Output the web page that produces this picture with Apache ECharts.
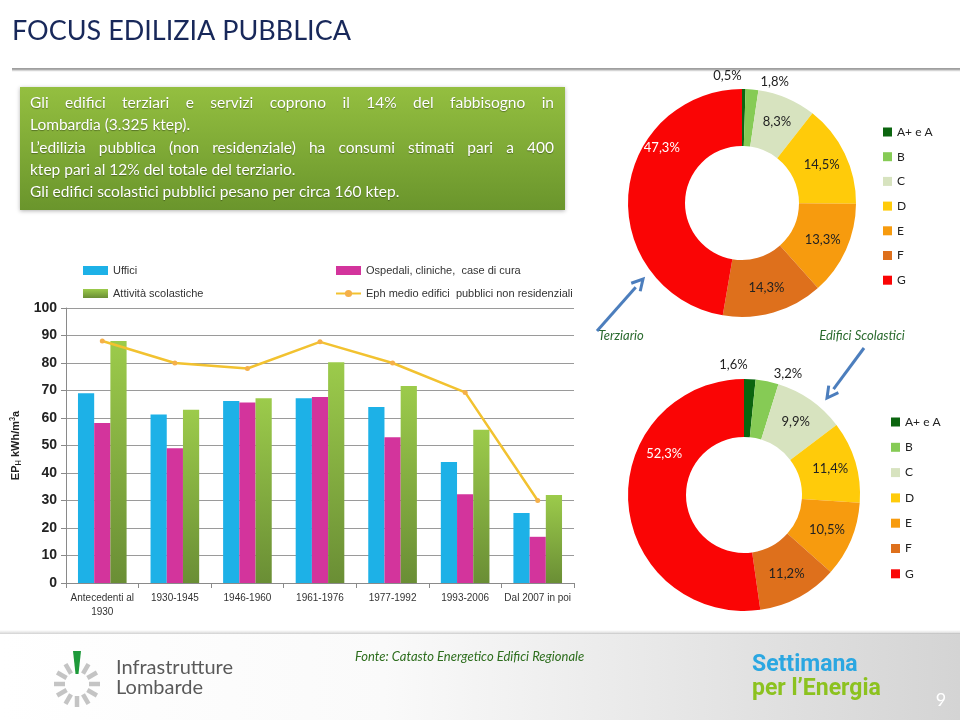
<!DOCTYPE html>
<html><head><meta charset="utf-8">
<script src="https://cdn.jsdelivr.net/npm/echarts@6/dist/echarts.min.js"></script>
<style>html,body{margin:0;padding:0;background:#fff}#c{width:960px;height:720px}</style>
</head><body><div id="c"></div>
<script>
// ---- data ----
const periods = ['Antecedenti al\n1930', '1930-1945', '1946-1960', '1961-1976', '1977-1992', '1993-2006', 'Dal 2007 in poi'];
const uffici = [69, 61.3, 66.2, 67.2, 64, 44, 25.5];
const ospedali = [58.2, 49, 65.6, 67.6, 53, 32.3, 16.8];
const scolastiche = [88, 63, 67.2, 80.3, 71.6, 55.7, 32];
const ephMedio = [88, 80, 78, 87.7, 80, 69.3, 30];
const seriesNames = ['Uffici', 'Ospedali, cliniche,  case di cura', 'Attività scolastiche', 'Eph medio edifici  pubblici non residenziali'];
const classes = ['A+ e A', 'B', 'C', 'D', 'E', 'F', 'G'];
const terziario = [0.5, 1.8, 8.3, 14.5, 13.3, 14.3, 47.3];
const scolastici = [1.6, 3.2, 9.9, 11.4, 10.5, 11.2, 52.3];
const boxLines = [
  'Gli edifici terziari e servizi coprono il 14% del fabbisogno in',
  'Lombardia (3.325 ktep).',
  'L’edilizia pubblica (non residenziale) ha consumi stimati pari a 400',
  'ktep pari al 12% del totale del terziario.',
  'Gli edifici scolastici pubblici pesano per circa 160 ktep.'
];
const justified = [true, false, true, false, false];

// ---- styles ----
const classColors = ['#0B650F', '#86CB55', '#D7E3BF', '#FFCB0A', '#F79B0E', '#DE701C', '#FA0505'];
const FONT = 'Lato, "Open Sans", sans-serif';

const chart = echarts.init(document.getElementById('c'), null, {renderer: 'canvas'});

function pct(p) { return p.value.toFixed(1).replace('.', ',') + '%'; }

function pieData(values, offsets) {
  return classes.map((n, i) => ({
    name: n, value: values[i],
    itemStyle: {color: classColors[i]},
    label: Object.assign({}, offsets[i] ? {offset: offsets[i]} : {},
      i === 6 ? {color: '#fff'} : {})
  }));
}
const pieLabel = {show: true, position: 'inside', formatter: pct, fontSize: 13, color: '#222', fontFamily: FONT};

// ---- graphic decorations ----
const g = [];
g.push({type: 'text', left: 12, top: 18, style: {text: 'FOCUS EDILIZIA PUBBLICA', fill: '#18285A', font: '27px ' + FONT}});
g.push({type: 'line', shape: {x1: 12, y1: 69, x2: 960, y2: 69}, style: {stroke: '#7F7F7F', lineWidth: 1.5}});
g.push({type: 'line', shape: {x1: 12, y1: 70.5, x2: 960, y2: 70.5}, style: {stroke: '#D5D5D5', lineWidth: 1.5}});
g.push({type: 'rect', shape: {x: 20, y: 87, width: 545, height: 123},
  style: {fill: new echarts.graphic.LinearGradient(0, 0, 0, 1, [{offset: 0, color: '#94BF40'}, {offset: 1, color: '#6A952C'}]),
    shadowBlur: 4, shadowColor: 'rgba(0,0,0,0.3)', shadowOffsetY: 1}});
const boxFont = '15.5px ' + FONT;
const mctx = document.createElement('canvas').getContext('2d');
mctx.font = boxFont;
const bx0 = 30, bx1 = 554;
boxLines.forEach((line, li) => {
  const y = 103 + li * 22.3;
  const st = {fill: '#fff', font: boxFont, textVerticalAlign: 'middle', verticalAlign: 'middle', textShadowColor: 'rgba(0,0,0,0.35)', textShadowBlur: 1, textShadowOffsetY: 1};
  if (justified[li]) {
    const words = line.split(' ');
    const ws = words.map(w => mctx.measureText(w).width);
    const tot = ws.reduce((a, b) => a + b, 0);
    const gap = (bx1 - bx0 - tot) / (words.length - 1);
    let x = bx0;
    words.forEach((w, k) => {
      g.push({type: 'text', x: x, y: y, style: Object.assign({text: w}, st)});
      x += ws[k] + gap;
    });
  } else {
    g.push({type: 'text', x: bx0, y: y, style: Object.assign({text: line}, st)});
  }
});
g.push({type: 'text', x: 621, y: 336, style: {text: 'Terziario', fill: '#2B6B2F', font: 'italic 13px ' + FONT, textAlign: 'center', align: 'center', textVerticalAlign: 'middle', verticalAlign: 'middle'}});
g.push({type: 'text', x: 862, y: 336, style: {text: 'Edifici Scolastici', fill: '#2B6B2F', font: 'italic 13px ' + FONT, textAlign: 'center', align: 'center', textVerticalAlign: 'middle', verticalAlign: 'middle'}});
function arrow(x1, y1, x2, y2) {
  const a = Math.atan2(y2 - y1, x2 - x1), L = 11, W = 6;
  const bx = x2 - L * Math.cos(a), by = y2 - L * Math.sin(a);
  g.push({type: 'line', shape: {x1: x1, y1: y1, x2: bx, y2: by}, style: {stroke: '#4C7EBD', lineWidth: 3}});
  g.push({type: 'polyline', shape: {points: [[bx - W * Math.sin(a), by + W * Math.cos(a)], [x2, y2], [bx + W * Math.sin(a), by - W * Math.cos(a)]]}, style: {stroke: '#4C7EBD', lineWidth: 3, fill: null}});
}
arrow(597, 331, 643, 279);
arrow(864, 348, 827, 398);
g.push({type: 'rect', shape: {x: 0, y: 633, width: 960, height: 87},
  style: {fill: new echarts.graphic.LinearGradient(0, 0, 1, 0, [{offset: 0, color: '#FFFFFF'}, {offset: 0.4, color: '#FAFAFA'}, {offset: 1, color: '#D4D4D4'}])}});
g.push({type: 'rect', shape: {x: 0, y: 630, width: 960, height: 4},
  style: {fill: new echarts.graphic.LinearGradient(0, 0, 0, 1, [{offset: 0, color: 'rgba(200,200,200,0)'}, {offset: 1, color: 'rgba(190,190,190,0.7)'}])}});
g.push({type: 'text', x: 355, y: 657, style: {text: 'Fonte: Catasto Energetico Edifici Regionale', fill: '#2E6E1E', font: 'italic 13px ' + FONT, textVerticalAlign: 'middle', verticalAlign: 'middle'}});
const lcx = 77, lcy = 684;
for (let k = 1; k < 12; k++) {
  const ang = k * Math.PI / 6;
  const s = Math.sin(ang), c = Math.cos(ang);
  g.push({type: 'line', shape: {x1: lcx + 12 * s, y1: lcy - 12 * c, x2: lcx + 23 * s, y2: lcy - 23 * c}, style: {stroke: '#C4C4C4', lineWidth: 4.5}});
}
g.push({type: 'polygon', shape: {points: [[lcx - 4, 651], [lcx + 4, 651], [lcx + 1.5, 674], [lcx - 1.5, 674]]}, style: {fill: '#1E9A3A'}});
g.push({type: 'text', x: 116, y: 668, style: {text: 'Infrastrutture', fill: '#5A5A5A', font: '20px ' + FONT, textVerticalAlign: 'middle', verticalAlign: 'middle'}});
g.push({type: 'text', x: 116, y: 688, style: {text: 'Lombarde', fill: '#5A5A5A', font: '20px ' + FONT, textVerticalAlign: 'middle', verticalAlign: 'middle'}});
g.push({type: 'text', x: 752, y: 665, style: {text: 'Settimana', fill: '#2BA7E1', font: 'bold 23px Roboto, sans-serif', textVerticalAlign: 'middle', verticalAlign: 'middle'}});
g.push({type: 'text', x: 752, y: 689, style: {text: 'per l’Energia', fill: '#8CC21F', font: 'bold 23px Roboto, sans-serif', textVerticalAlign: 'middle', verticalAlign: 'middle'}});
g.push({type: 'text', x: 941, y: 700, style: {text: '9', fill: '#FFFFFF', font: '18px ' + FONT, textAlign: 'center', align: 'center', textVerticalAlign: 'middle', verticalAlign: 'middle'}});

const legFont = {fontSize: 11, color: '#333', fontFamily: '"Liberation Sans Narrow", "Liberation Sans", sans-serif'};
const option = {
  backgroundColor: '#fff',
  animation: false,
  textStyle: {fontFamily: FONT},
  graphic: {elements: g},
  legend: [
    {left: 78, top: 260, orient: 'vertical', itemWidth: 25, itemHeight: 9, itemGap: 12, data: [seriesNames[0], seriesNames[2]],
      textStyle: legFont, selectedMode: false, icon: 'rect'},
    {left: 330, top: 260, orient: 'vertical', itemWidth: 25, itemHeight: 9, itemGap: 12, data: [{name: seriesNames[1], icon: 'rect'}, {name: seriesNames[3]}],
      textStyle: legFont, selectedMode: false},
    {left: 878, top: 121, orient: 'vertical', itemWidth: 9, itemHeight: 9, itemGap: 12.7, data: classes, icon: 'rect',
      textStyle: {fontSize: 12, color: '#222', fontFamily: FONT}, selectedMode: false},
    {left: 886, top: 411, orient: 'vertical', itemWidth: 9, itemHeight: 9, itemGap: 13.3, data: classes, icon: 'rect',
      textStyle: {fontSize: 12, color: '#222', fontFamily: FONT}, selectedMode: false}
  ],
  grid: {left: 66, top: 308, width: 508, height: 275},
  xAxis: {
    type: 'category', data: periods,
    axisLine: {lineStyle: {color: '#8A8A8A'}},
    axisTick: {show: true, length: 5, lineStyle: {color: '#8A8A8A'}},
    axisLabel: {interval: 0, fontSize: 10, color: '#333', lineHeight: 14, margin: 8, fontFamily: '"Liberation Sans", sans-serif'}
  },
  yAxis: {
    type: 'value', min: 0, max: 100, interval: 10,
    name: '{b|EP}{s|H}{b| kWh/m}{p|3}{b|a}', nameLocation: 'middle', nameGap: 40, nameRotate: 90,
    nameTextStyle: {rich: {
      b: {fontSize: 11, fontWeight: 'bold', color: '#222', fontFamily: '"Liberation Sans", sans-serif'},
      s: {fontSize: 7, fontWeight: 'bold', color: '#222', verticalAlign: 'bottom', padding: [6, 0, 0, 0]},
      p: {fontSize: 7, fontWeight: 'bold', color: '#222', verticalAlign: 'top', padding: [0, 0, 6, 0]}
    }},
    axisLine: {show: true, lineStyle: {color: '#8A8A8A'}},
    axisTick: {show: true, length: 5, lineStyle: {color: '#8A8A8A'}},
    axisLabel: {fontSize: 14, fontWeight: 'bold', color: '#222', margin: 9, fontFamily: '"Liberation Sans Narrow", "Liberation Sans", sans-serif'},
    splitLine: {lineStyle: {color: '#9A9A9A', width: 1}}
  },
  series: [
    {name: seriesNames[0], type: 'bar', data: uffici, barGap: '0%', barCategoryGap: '33%', itemStyle: {color: '#1DB1E7'}, silent: true},
    {name: seriesNames[1], type: 'bar', data: ospedali, itemStyle: {color: '#D3349C'}, silent: true},
    {name: seriesNames[2], type: 'bar', data: scolastiche, silent: true,
      itemStyle: {color: new echarts.graphic.LinearGradient(0, 0, 0, 1, [{offset: 0, color: '#9CCB4B'}, {offset: 1, color: '#6A8E35'}])}},
    {name: seriesNames[3], type: 'line', data: ephMedio, silent: true, symbol: 'circle', symbolSize: 5,
      lineStyle: {color: '#F2C230', width: 2.5}, itemStyle: {color: '#F5B04A'}, z: 5},
    {name: 'Terziario', type: 'pie', center: [742, 203], radius: [57, 114], startAngle: 90, clockwise: true, silent: true,
      label: pieLabel, labelLine: {show: false}, emphasis: {disabled: true},
      data: pieData(terziario, [[-16, -39], [25, -33], null, null, null, null, [8, -48]])},
    {name: 'Edifici Scolastici', type: 'pie', center: [744, 495], radius: [58, 116], startAngle: 90, clockwise: true, silent: true,
      label: pieLabel, labelLine: {show: false}, emphasis: {disabled: true},
      data: pieData(scolastici, [[-15, -40], [26, -33], null, null, null, null, [10, -48]])}
  ]
};
chart.setOption(option);
</script></body></html>
